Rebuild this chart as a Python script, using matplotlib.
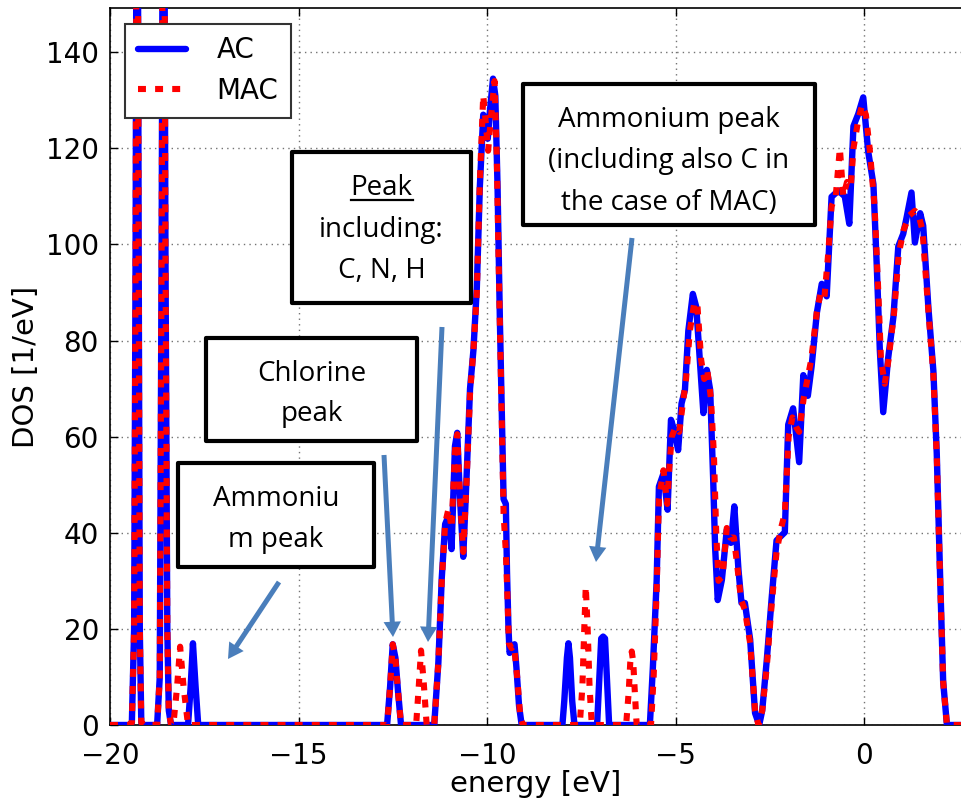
import matplotlib
matplotlib.use('Agg')
import matplotlib.pyplot as plt
from matplotlib.patches import Rectangle, FancyArrowPatch, ArrowStyle
from matplotlib.lines import Line2D

# ---------------- data (energy [eV], DOS [1/eV]) ----------------
ac_curve = [
    (-20.0, 0), (-19.50, 0), (-19.42, 0.5), (-19.36, 20), (-19.32, 100), (-19.28, 230),
    (-19.24, 100), (-19.21, 20), (-19.17, 0.5), (-19.10, 0),
    (-18.75, 0), (-18.68, 10), (-18.63, 100), (-18.58, 230), (-18.53, 100), (-18.48, 20),
    (-18.44, 3), (-18.38, 0),
    (-17.93, 0), (-17.86, 8), (-17.80, 17), (-17.73, 8), (-17.66, 0),
    (-12.65, 0), (-12.57, 8), (-12.50, 16.8), (-12.43, 14), (-12.36, 7), (-12.28, 0),
    (-11.40, 0), (-11.29, 13), (-11.20, 30.6), (-11.11, 41.8), (-11.02, 43.5), (-10.94, 36.6),
    (-10.85, 58), (-10.79, 60.8), (-10.72, 47.8), (-10.63, 35), (-10.54, 52), (-10.45, 70),
    (-10.36, 78), (-10.27, 91), (-10.19, 112), (-10.10, 127), (-10.05, 126), (-9.98, 122),
    (-9.92, 128), (-9.84, 134.5), (-9.78, 131), (-9.72, 112), (-9.66, 85), (-9.60, 62),
    (-9.56, 47), (-9.50, 46), (-9.47, 32), (-9.43, 20), (-9.40, 15), (-9.33, 16.5),
    (-9.27, 16.8), (-9.22, 12), (-9.15, 4), (-9.08, 0),
    (-8.00, 0), (-7.95, 5), (-7.88, 14), (-7.84, 17), (-7.80, 14), (-7.74, 5), (-7.68, 0),
    (-7.08, 0), (-7.02, 10), (-6.97, 18), (-6.92, 18.4), (-6.87, 18), (-6.82, 10), (-6.76, 0),
    (-5.68, 0), (-5.60, 12), (-5.50, 30), (-5.44, 49.6), (-5.32, 52.3), (-5.21, 44.8),
    (-5.16, 55), (-5.12, 63.5), (-5.04, 61.5), (-4.93, 57.2), (-4.84, 66.9), (-4.75, 69.7),
    (-4.66, 82), (-4.54, 89.7), (-4.45, 87), (-4.35, 75.2), (-4.26, 64.9), (-4.17, 73.9),
    (-4.08, 69.7), (-4.00, 51), (-3.95, 37.1), (-3.88, 26), (-3.77, 30.2), (-3.64, 40.6),
    (-3.53, 37.9), (-3.44, 45.5), (-3.33, 32.3), (-3.25, 25.4), (-3.16, 25.4), (-3.02, 17.8),
    (-2.89, 2.5), (-2.78, 0), (-2.70, 3), (-2.58, 13.4), (-2.45, 26.3), (-2.32, 38.4),
    (-2.10, 40.1), (-2.01, 62.5), (-1.88, 65.9), (-1.72, 54.7), (-1.61, 72.8), (-1.49, 68.5),
    (-1.39, 74.6), (-1.25, 85.8), (-1.12, 91.8), (-0.99, 89.2), (-0.86, 109.9), (-0.68, 111.2),
    (-0.51, 110), (-0.39, 104.3), (-0.28, 124.6), (-0.15, 127.2), (-0.02, 130.6), (0.11, 119.4),
    (0.25, 112.5), (0.34, 95.3), (0.42, 78), (0.51, 65.1), (0.64, 76.3), (0.78, 84.9),
    (0.91, 99.6), (1.04, 102.2), (1.13, 105.6), (1.26, 110.8), (1.35, 100.4), (1.49, 106.5),
    (1.57, 103.9), (1.71, 86.6), (1.84, 73.7), (1.93, 56.5), (2.02, 30.6), (2.10, 9),
    (2.20, 0), (3.00, 0),
]

mac_curve = [
    (-20.0, 0), (-19.50, 0), (-19.42, 0.5), (-19.36, 20), (-19.32, 100), (-19.28, 230),
    (-19.24, 100), (-19.21, 20), (-19.17, 0.5), (-19.10, 0),
    (-18.75, 0), (-18.68, 10), (-18.63, 100), (-18.58, 230), (-18.53, 100), (-18.48, 20),
    (-18.44, 3), (-18.38, 0),
    (-18.32, 0), (-18.22, 8), (-18.14, 16.3), (-18.05, 8), (-17.93, 0),
    (-12.65, 0), (-12.57, 8), (-12.50, 16.8), (-12.43, 14), (-12.36, 7), (-12.28, 0),
    (-11.88, 0), (-11.81, 8), (-11.75, 15.5), (-11.68, 9), (-11.60, 0),
    (-11.40, 0), (-11.29, 13), (-11.20, 30), (-11.11, 42), (-11.02, 45), (-10.94, 41),
    (-10.85, 57), (-10.79, 60.5), (-10.72, 48), (-10.63, 36), (-10.54, 51), (-10.45, 69),
    (-10.36, 78), (-10.27, 90), (-10.19, 113), (-10.10, 131), (-10.04, 126), (-9.97, 119.5),
    (-9.90, 126), (-9.80, 134), (-9.74, 118), (-9.70, 100), (-9.65, 80), (-9.60, 60),
    (-9.56, 44), (-9.50, 36), (-9.45, 25), (-9.42, 17), (-9.35, 16), (-9.28, 16.5),
    (-9.20, 10), (-9.12, 2), (-9.05, 0),
    (-7.54, 0), (-7.47, 8), (-7.42, 20), (-7.38, 28.8), (-7.33, 20), (-7.28, 8), (-7.22, 0),
    (-6.31, 0), (-6.24, 7), (-6.20, 13), (-6.16, 15.3), (-6.12, 13), (-6.08, 7), (-6.03, 0),
    (-5.65, 0), (-5.58, 10), (-5.50, 28), (-5.44, 47), (-5.32, 53), (-5.22, 46),
    (-5.16, 54), (-5.10, 60), (-5.00, 62), (-4.90, 61), (-4.82, 66), (-4.72, 72),
    (-4.62, 82), (-4.50, 88), (-4.42, 87.5), (-4.32, 76), (-4.24, 72), (-4.16, 74),
    (-4.06, 68), (-3.98, 56), (-3.92, 40), (-3.86, 30), (-3.75, 31), (-3.64, 41),
    (-3.55, 39), (-3.45, 39), (-3.36, 33), (-3.26, 26), (-3.16, 24), (-3.02, 17),
    (-2.89, 3), (-2.80, 0), (-2.70, 3), (-2.58, 12), (-2.45, 25), (-2.32, 36),
    (-2.20, 41), (-2.10, 44), (-2.00, 60), (-1.90, 64), (-1.80, 62), (-1.72, 61),
    (-1.60, 68), (-1.50, 72), (-1.40, 76), (-1.25, 86), (-1.15, 90), (-1.05, 89),
    (-0.95, 98), (-0.86, 108), (-0.75, 110), (-0.64, 120), (-0.55, 110), (-0.45, 113),
    (-0.35, 112), (-0.28, 120), (-0.15, 126), (-0.05, 129), (0.05, 127), (0.15, 120),
    (0.28, 108), (0.38, 90), (0.45, 76), (0.55, 71), (0.65, 76), (0.80, 86),
    (0.92, 98), (1.05, 103), (1.20, 106), (1.35, 107), (1.45, 106), (1.55, 103),
    (1.70, 87), (1.84, 73), (1.93, 56), (2.02, 30), (2.10, 9), (2.20, 0), (3.00, 0),
]

series_labels = ["AC", "MAC"]
x_ticks = [-20, -15, -10, -5, 0]
y_ticks = [0, 20, 40, 60, 80, 100, 120, 140]

# annotation boxes: (left, top, right, bottom) in pixels, lines of text with baselines
boxes = [
    ((292, 152, 471, 303), [("Peak", 195), ("including:", 237), ("C, N, H", 278)]),
    ((206, 338, 417, 441), [("Chlorine", 381), ("peak", 421)]),
    ((178, 463, 374, 567), [("Ammoniu", 506), ("m peak", 547)]),
    ((523, 84, 815, 225), [("Ammonium peak", 127), ("(including also C in", 168),
                           ("the case of MAC)", 210)]),
]
# arrows: (tail_x, tail_y, tip_x, tip_y) in pixels
arrows = [
    (279, 582, 228, 659),
    (384, 455, 393, 637),
    (442, 327, 428, 642),
    (632, 238, 596, 562),
]

W, H = 961, 800
fig = plt.figure(figsize=(W / 100, H / 100), dpi=100)
ax = fig.add_axes([110 / W, (H - 725) / H, (W - 110) / W, (725 - 8) / H])

def fx(x):
    return x / W

def fy(y):
    return 1 - y / H

ac_e, ac_d = zip(*ac_curve)
mac_e, mac_d = zip(*mac_curve)

l1, = ax.plot(ac_e, ac_d, color='#0000ff', lw=4.6, solid_joinstyle='round',
              solid_capstyle='round', label=series_labels[0], zorder=3)
l2, = ax.plot(mac_e, mac_d, color='#ff0000', lw=4.4, linestyle=(0, (1.3, 1.5)),
              dash_capstyle='butt', dash_joinstyle='round', label=series_labels[1], zorder=4)

ax.set_xlim(-20, (W - 864) / 37.7)
ax.set_ylim(0, 149.2)
ax.set_xticks(x_ticks)
ax.set_yticks(y_ticks)
ax.set_xticklabels(['\u2212' + str(-t) if t < 0 else str(t) for t in x_ticks])
ax.tick_params(direction='in', length=6, width=1, labelsize=20, top=True, right=False)
ax.tick_params(axis='x', pad=12)
ax.tick_params(axis='y', pad=8)
ax.grid(True, color='0.45', linestyle=(0, (1, 3)), linewidth=1)
ax.set_axisbelow(True)
ax.spines['right'].set_visible(False)
for s in ['left', 'top', 'bottom']:
    ax.spines[s].set_linewidth(1.2)
ax.set_xlabel('energy [eV]', fontsize=21, labelpad=0)
ax.set_ylabel('DOS [1/eV]', fontsize=21, labelpad=4)

leg = ax.legend(handles=[l1, l2], loc='upper left', bbox_to_anchor=(fx(125), fy(24)),
                bbox_transform=fig.transFigure, borderaxespad=0, fontsize=20,
                fancybox=False, framealpha=1, edgecolor='0.2', handlelength=1.75,
                handletextpad=1.1, labelspacing=0.45, borderpad=0.45)
leg.get_frame().set_linewidth(1.5)
leg.set_zorder(10)

box_font = ['Open Sans', 'DejaVu Sans']
peak_text = None
for (l, t, r, b), lines in boxes:
    rect = Rectangle((fx(l), fy(b)), fx(r) - fx(l), fy(t) - fy(b), transform=fig.transFigure,
                     facecolor='white', edgecolor='black', linewidth=3, joinstyle='round', zorder=20)
    fig.add_artist(rect)
    cx = (l + r) / 2
    for txt, base in lines:
        tobj = fig.text(fx(cx), fy(base), txt, ha='center', va='baseline', fontsize=20,
                        family=box_font, color='black', zorder=21)
        if txt == "Peak":
            peak_text = tobj

# underline of "Peak", as wide as the word
fig.canvas.draw()
bb = peak_text.get_window_extent(renderer=fig.canvas.get_renderer())
fig.add_artist(Line2D([bb.x0 / W, bb.x1 / W], [fy(200), fy(200)], transform=fig.transFigure,
                      color='black', lw=1.6, zorder=21))

style = ArrowStyle.Simple(head_length=11, head_width=12.5, tail_width=3.6)
for x0, y0, x1, y1 in arrows:
    arr = FancyArrowPatch((fx(x0), fy(y0)), (fx(x1), fy(y1)), transform=fig.transFigure,
                          arrowstyle=style, mutation_scale=1, shrinkA=0, shrinkB=0,
                          color='#4a7ebb', linewidth=0, zorder=22)
    fig.add_artist(arr)

fig.savefig('out.png', dpi=100)
